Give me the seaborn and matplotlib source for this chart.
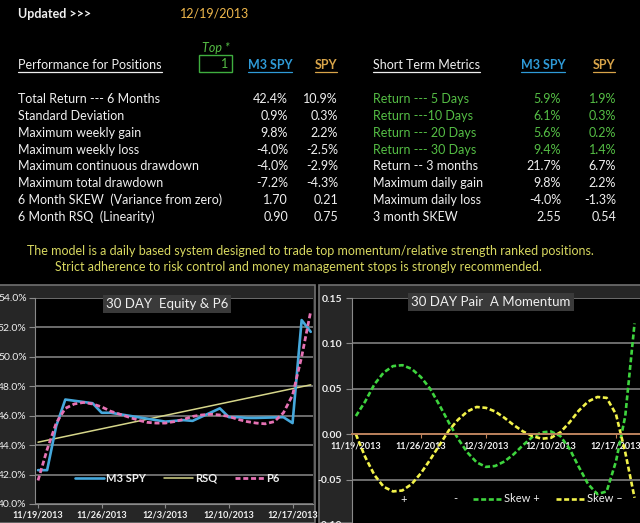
import pandas as pd
import seaborn as sns
import matplotlib.pyplot as plt
import matplotlib.ticker as mticker
from matplotlib.patches import Rectangle
from matplotlib.lines import Line2D

# ---- table data ----
updated = '12/19/2013'
top_n = '1'

perf_labels = ['Total Return --- 6 Months', 'Standard Deviation', 'Maximum weekly gain',
               'Maximum weekly loss', 'Maximum continuous drawdown', 'Maximum total drawdown',
               '6 Month SKEW  (Variance from zero)', '6 Month RSQ  (Linearity)']
perf_m3 = ['42.4%', '0.9%', '9.8%', '-4.0%', '-4.0%', '-7.2%', '1.70', '0.90']
perf_spy = ['10.9%', '0.3%', '2.2%', '-2.5%', '-2.9%', '-4.3%', '0.21', '0.75']

short_labels = ['Return --- 5 Days', 'Return ---10 Days', 'Return --- 20 Days', 'Return --- 30 Days',
                'Return -- 3 months', 'Maximum daily gain', 'Maximum daily loss', '3 month SKEW']
short_m3 = ['5.9%', '6.1%', '5.6%', '9.4%', '21.7%', '9.8%', '-4.0%', '2.55']
short_spy = ['1.9%', '0.3%', '0.2%', '1.4%', '6.7%', '2.2%', '-1.3%', '0.54']

footer = ['The model is a daily based system designed to trade top momentum/relative strength ranked positions.',
          'Strict adherence to risk control and money management stops is strongly recommended.']

# ---- chart data ----
trade_dates = ['2013-11-19', '2013-11-20', '2013-11-21', '2013-11-22', '2013-11-25', '2013-11-26',
               '2013-11-27', '2013-11-29', '2013-12-02', '2013-12-03', '2013-12-04', '2013-12-05',
               '2013-12-06', '2013-12-09', '2013-12-10', '2013-12-11', '2013-12-12', '2013-12-13',
               '2013-12-16', '2013-12-17', '2013-12-18', '2013-12-19']
m3_equity = [42.3, 42.3, 45.3, 47.1, 46.85, 46.2, 46.2, 46.0, 45.7, 45.6, 45.65, 45.7,
             45.65, 46.5, 45.9, 45.9, 45.85, 45.85, 45.9, 45.5, 52.5, 51.7]

rsq_dates = ['2013-11-19', '2013-12-19']
rsq_values = [44.2, 48.1]

cal_dates = pd.date_range('2013-11-19', '2013-12-19')
p6_values = [41.6, 43.7, 45.5, 46.5, 46.8, 46.9, 46.8, 46.6, 46.3, 46.1, 45.9, 45.7, 45.55, 45.5,
             45.5, 45.6, 45.75, 45.95, 46.05, 46.1, 46.05, 45.95, 45.75, 45.6, 45.5, 45.45, 45.6,
             46.2, 47.4, 50.0, 53.1]

skew_pos = [0.020, 0.036, 0.055, 0.068, 0.075, 0.076, 0.072, 0.063, 0.050, 0.032, 0.013, -0.005,
            -0.020, -0.031, -0.036, -0.035, -0.030, -0.022, -0.012, -0.003, 0.002, 0.003, -0.002,
            -0.016, -0.036, -0.055, -0.066, -0.063, -0.030, 0.020, 0.122]
skew_neg = [0.000, -0.025, -0.045, -0.058, -0.063, -0.062, -0.055, -0.043, -0.028, -0.012, 0.004,
            0.016, 0.025, 0.030, 0.029, 0.025, 0.018, 0.010, 0.003, -0.002, -0.005, -0.004, 0.002,
            0.013, 0.026, 0.036, 0.041, 0.040, 0.022, -0.020, -0.070]

tick_dates = ['2013-11-19', '2013-11-26', '2013-12-03', '2013-12-10', '2013-12-17']
tick_labels = ['11/19/2013', '11/26/2013', '12/3/2013', '12/10/2013', '12/17/2013']

sns.set_style('dark')
plt.rcParams['font.family'] = ['Lato', 'DejaVu Sans']

W, H = 640, 523


def px(x, y):
    return x / W, 1 - y / H


fig = plt.figure(figsize=(6.4, 5.23), dpi=100, facecolor='black')

WHITE = '#f0f0f0'
GREEN = '#55be45'
BLUE = '#2f9bd8'
GOLD = '#d9a54a'
underlined = []

# header
fig.text(*px(18, 14), 'Updated >>>', color=WHITE, fontsize=9, fontweight='bold', va='center')
fig.text(*px(180, 14), updated, color='#f0b84c', fontsize=9, va='center')
fig.text(*px(202, 48), 'Top *', color=GREEN, fontsize=9, style='italic', va='center')
fig.add_artist(Rectangle(px(199, 72), 33 / W, 17 / H, transform=fig.transFigure,
                         fill=False, edgecolor='#3fae3f', lw=1))
fig.text(*px(228, 64), top_n, color=GREEN, fontsize=9, ha='right', va='center')

underlined.append(fig.text(*px(18, 65), 'Performance for Positions', color=WHITE, fontsize=9, va='center'))
underlined.append(fig.text(*px(270, 65), 'M3 SPY', color=BLUE, fontsize=9, fontweight='bold', ha='center', va='center'))
underlined.append(fig.text(*px(326, 65), 'SPY', color=GOLD, fontsize=9, fontweight='bold', ha='center', va='center'))
underlined.append(fig.text(*px(373, 65), 'Short Term Metrics', color=WHITE, fontsize=9, va='center'))
underlined.append(fig.text(*px(543, 65), 'M3 SPY', color=BLUE, fontsize=9, fontweight='bold', ha='center', va='center'))
underlined.append(fig.text(*px(604, 65), 'SPY', color=GOLD, fontsize=9, fontweight='bold', ha='center', va='center'))

row_y = [99, 116, 133, 150, 166, 183, 200, 217]
for i, y in enumerate(row_y):
    fig.text(*px(18, y), perf_labels[i], color=WHITE, fontsize=9, va='center')
    fig.text(*px(288, y), perf_m3[i], color=WHITE, fontsize=9, ha='right', va='center')
    fig.text(*px(338, y), perf_spy[i], color=WHITE, fontsize=9, ha='right', va='center')
    c = GREEN if i < 4 else WHITE
    fig.text(*px(373, y), short_labels[i], color=c, fontsize=9, va='center')
    fig.text(*px(561, y), short_m3[i], color=c, fontsize=9, ha='right', va='center')
    fig.text(*px(616, y), short_spy[i], color=c, fontsize=9, ha='right', va='center')

fig.text(*px(310, 251), footer[0], color='#d8d860', fontsize=9, ha='center', va='center')
fig.text(*px(298, 267), footer[1], color='#d8d860', fontsize=9, ha='center', va='center')

# chart panels
fig.add_artist(Rectangle(px(-2, 523), 317 / W, 238 / H, transform=fig.transFigure,
                         facecolor='#262626', edgecolor='#707070', lw=1.2, zorder=0))
fig.add_artist(Rectangle(px(319, 523), 330 / W, 238 / H, transform=fig.transFigure,
                         facecolor='#262626', edgecolor='#707070', lw=1.2, zorder=0))

GRID = '#8a8a8a'

# ---- left chart: equity ----
ax1 = fig.add_axes([35 / W, 1 - 504 / H, 278 / W, 206 / H])
ax1.set_facecolor('black')
eq_df = pd.DataFrame({'date': pd.to_datetime(trade_dates), 'value': m3_equity})
rsq_df = pd.DataFrame({'date': pd.to_datetime(rsq_dates), 'value': rsq_values})
p6_df = pd.DataFrame({'date': cal_dates, 'value': p6_values})
sns.lineplot(data=rsq_df, x='date', y='value', ax=ax1, color='#d6d68a', lw=1.1, label='RSQ')
sns.lineplot(data=eq_df, x='date', y='value', ax=ax1, color='#45a8dc', lw=1.9, label='M3 SPY')
sns.lineplot(data=p6_df, x='date', y='value', ax=ax1, color='#e672b4', lw=2.0,
             linestyle=(0, (1.8, 1.0)), label='P6')
ax1.set_ylim(40, 54)
ax1.set_yticks([40, 42, 44, 46, 48, 50, 52, 54])
ax1.yaxis.set_major_formatter(mticker.FuncFormatter(lambda v, p: f'{v:.1f}%'))
ax1.set_xlim(pd.Timestamp('2013-11-19') - pd.Timedelta(hours=8),
             pd.Timestamp('2013-12-19') + pd.Timedelta(hours=6))
ax1.set_xticks(pd.to_datetime(tick_dates))
ax1.set_xticklabels(tick_labels)
ax1.grid(axis='y', color=GRID, lw=1.1)
ax1.grid(axis='x', visible=False)
ax1.set_xlabel('')
ax1.set_ylabel('')
for s in ['top', 'right']:
    ax1.spines[s].set_visible(False)
ax1.spines['left'].set_color(GRID)
ax1.spines['bottom'].set_color(GRID)
ax1.tick_params(axis='y', colors=GRID, labelcolor=WHITE, labelsize=7.5, length=4, pad=2, left=True)
ax1.tick_params(axis='x', colors=GRID, labelcolor=WHITE, labelsize=6.6, length=3, pad=2, bottom=True)
for t in ax1.get_xticklabels():
    t.set_fontweight('bold')
h, l = ax1.get_legend_handles_labels()
order = [l.index('M3 SPY'), l.index('RSQ'), l.index('P6')]
ax1.legend([h[i] for i in order], [l[i] for i in order], loc='center', ncol=3,
           bbox_to_anchor=px(177, 478), bbox_transform=fig.transFigure, frameon=False,
           fontsize=8, labelcolor=WHITE, handlelength=2.6, handletextpad=0.2, columnspacing=1.6)
for t in ax1.get_legend().get_texts():
    t.set_fontweight('bold')
fig.text(*px(167, 304), '30 DAY  Equity & P6', color=WHITE, fontsize=9.5, ha='center', va='center',
         bbox=dict(boxstyle='square,pad=0.25', fc='#3a3a3a', ec='none'), zorder=10)

# ---- right chart: momentum ----
ax2 = fig.add_axes([352 / W, 1 - 525 / H, 293 / W, 227 / H])
ax2.set_facecolor('black')
sk_df = pd.DataFrame({'date': cal_dates, 'pos': skew_pos, 'neg': skew_neg})
ax2.plot([], [], color='black', label='+')
ax2.plot([], [], color='black', label='-')
sns.lineplot(data=sk_df, x='date', y='pos', ax=ax2, color='#3ed43e', lw=1.9,
             linestyle=(0, (1.9, 1.0)), label='Skew +')
sns.lineplot(data=sk_df, x='date', y='neg', ax=ax2, color='#f2f24a', lw=1.9,
             linestyle=(0, (1.9, 1.0)), label='Skew \u2013')
ax2.set_ylim(-0.10, 0.15)
ax2.set_yticks([-0.10, -0.05, 0.0, 0.05, 0.10, 0.15])
ax2.yaxis.set_major_formatter(mticker.FuncFormatter(lambda v, p: f'{v:.2f}'))
ax2.set_xlim(pd.Timestamp('2013-11-19') - pd.Timedelta(hours=10),
             pd.Timestamp('2013-12-20') + pd.Timedelta(hours=3))
ax2.set_xticks(pd.to_datetime(tick_dates))
ax2.set_xticklabels(tick_labels)
ax2.grid(axis='y', color=GRID, lw=1.1)
ax2.grid(axis='x', visible=False)
ax2.set_xlabel('')
ax2.set_ylabel('')
for s in ['top', 'right']:
    ax2.spines[s].set_visible(False)
ax2.spines['left'].set_color(GRID)
ax2.spines['bottom'].set_position(('data', 0))
ax2.spines['bottom'].set_color('#c0825a')
ax2.spines['bottom'].set_linewidth(1.3)
ax2.tick_params(axis='y', colors=GRID, labelcolor=WHITE, labelsize=7.5, length=4, pad=3, left=True)
ax2.tick_params(axis='x', colors='#c0825a', labelcolor=WHITE, labelsize=6.6, length=3, pad=2, bottom=True)
for t in ax2.get_xticklabels() + ax2.get_yticklabels():
    t.set_fontweight('bold')
ax2.legend(loc='center', ncol=4, bbox_to_anchor=px(496, 499), bbox_transform=fig.transFigure,
           frameon=False, fontsize=8, labelcolor=WHITE, handlelength=2.6, handletextpad=0.2,
           columnspacing=1.4)
fig.text(*px(491, 302), '30 DAY Pair  A Momentum', color=WHITE, fontsize=9.5, ha='center', va='center',
         bbox=dict(boxstyle='square,pad=0.25', fc='#3a3a3a', ec='none'), zorder=10)

# underline the header texts
fig.canvas.draw()
r = fig.canvas.get_renderer()
for t in underlined:
    bb = t.get_window_extent(r)
    y = bb.y0 - 1
    fig.add_artist(Line2D([bb.x0 / W, bb.x1 / W], [y / H, y / H], transform=fig.transFigure,
                          color=t.get_color(), lw=0.9))

fig.savefig('out.png', dpi=100, facecolor='black')
